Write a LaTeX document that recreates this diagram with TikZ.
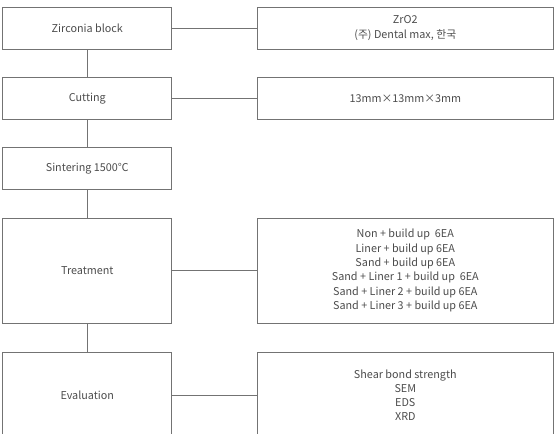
\documentclass[tikz,border=0pt]{standalone}
\usepackage{fontspec}
\setmainfont{Noto Sans CJK KR}
\begin{document}
\begin{tikzpicture}[x=1pt,y=-1pt,
  box/.style={draw=black!55,line width=0.9pt,rectangle,inner sep=0pt,align=center,font=\fontsize{10.8}{14.3}\selectfont,text=black!70},
  lbox/.style={box,minimum width=169pt},
  rbox/.style={box,minimum width=296pt},
  link/.style={draw=black!55,line width=0.9pt}]
\useasboundingbox (0,0) rectangle (558,434);
\clip (0,0) rectangle (558,434);
\node[lbox,minimum height=42pt] (zb) at (87.3,28) {Zirconia block};
\node[lbox,minimum height=41.5pt] (cut) at (87.3,98.2) {Cutting};
\node[lbox,minimum height=42pt] (sin) at (87.3,168.3) {Sintering 1500℃};
\node[lbox,minimum height=105pt] (tr) at (87.3,270.5) {Treatment};
\node[lbox,minimum height=85pt] (ev) at (87.3,395.2) {Evaluation};
\node[rbox,minimum height=42pt] (zr) at (405.3,28) {ZrO2\\(주) Dental max, 한국};
\node[rbox,minimum height=41.5pt] (dim) at (405.3,98.2) {13mm×13mm×3mm};
\node[rbox,minimum height=105pt] (grp) at (405.3,270.5) {Non + build up\ \ 6EA\\Liner + build up 6EA\\Sand + build up 6EA\\Sand + Liner 1 + build up\ \ 6EA\\Sand + Liner 2 + build up 6EA\\Sand + Liner 3 + build up 6EA};
\node[rbox,minimum height=85pt] (an) at (405.3,395.2) {Shear bond strength\\SEM\\EDS\\XRD};
\draw[link] (zb) -- (cut);
\draw[link] (cut) -- (sin);
\draw[link] (sin) -- (tr);
\draw[link] (tr) -- (ev);
\draw[link] (zb) -- (zr);
\draw[link] (cut) -- (dim);
\draw[link] (tr) -- (grp);
\draw[link] (ev) -- (an);
\end{tikzpicture}
\end{document}
